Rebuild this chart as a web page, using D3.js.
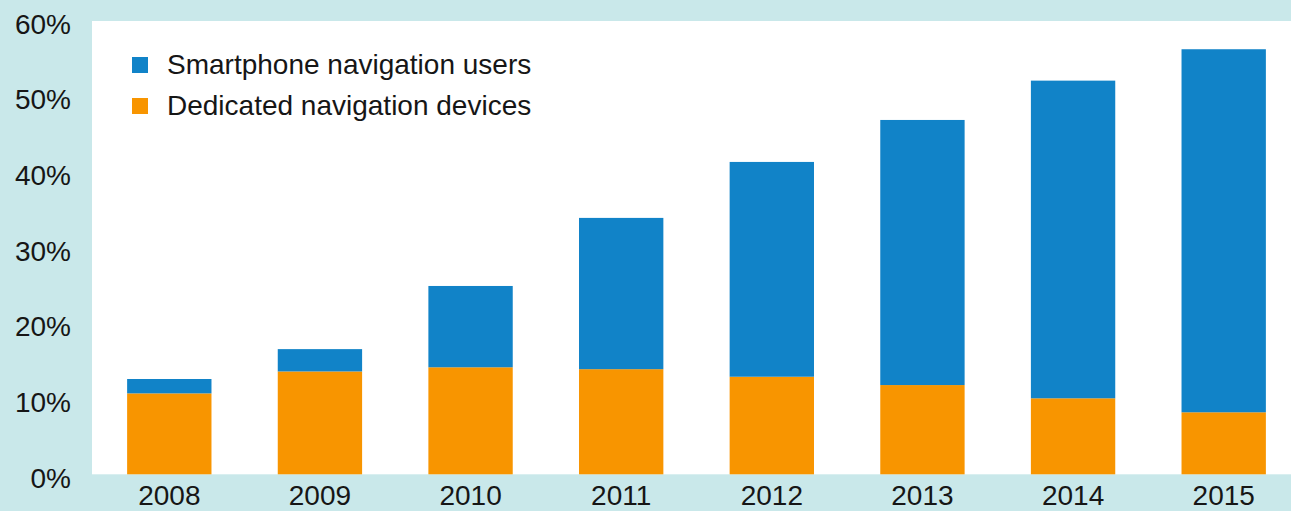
<!DOCTYPE html>
<html>
<head>
<meta charset="utf-8">
<script src="https://cdn.jsdelivr.net/npm/d3@7"></script>
<style>
  html, body { margin: 0; padding: 0; background: #c9e8ea; }
  svg { display: block; }
  text { font-family: "Liberation Sans", Arial, Helvetica, sans-serif; fill: #161616; }
</style>
</head>
<body>
<svg id="chart" width="1291" height="511"></svg>
<script>
// Share of users by navigation type, per year
const years = ["2008", "2009", "2010", "2011", "2012", "2013", "2014", "2015"];
const dedicatedDevices = [10.7, 13.6, 14.15, 13.9, 12.9, 11.8, 10.05, 8.2];
const smartphoneUsers = [1.9, 2.95, 10.75, 20.0, 28.4, 35.05, 42.0, 48.0];
const yTicks = [0, 10, 20, 30, 40, 50, 60];
const seriesNames = ["Dedicated navigation devices", "Smartphone navigation users"];
const seriesColors = ["#f89500", "#1183c8"];
const legendOrder = ["Smartphone navigation users", "Dedicated navigation devices"];

const W = 1291, H = 511;
const plot = { left: 92, right: 1291, top: 21, bottom: 474.3 };

const svg = d3.select("#chart");

// white plotting panel on the tinted background
svg.append("rect")
  .attr("x", plot.left).attr("y", plot.top)
  .attr("width", plot.right - plot.left)
  .attr("height", plot.bottom - plot.top)
  .attr("fill", "#ffffff");

const x = d3.scaleBand()
  .domain(years)
  .range([97, 1296])
  .paddingInner(0.44)
  .paddingOuter(0.2);

const y = d3.scaleLinear()
  .domain([0, 60])
  .range([plot.bottom, 20.5]);

const color = d3.scaleOrdinal().domain(seriesNames).range(seriesColors);

const rows = years.map((yr, i) => ({
  year: yr,
  [seriesNames[0]]: dedicatedDevices[i],
  [seriesNames[1]]: smartphoneUsers[i]
}));

const stacked = d3.stack().keys(seriesNames)(rows);

svg.append("g")
  .selectAll("g")
  .data(stacked)
  .join("g")
  .attr("fill", d => color(d.key))
  .selectAll("rect")
  .data(d => d)
  .join("rect")
  .attr("x", d => x(d.data.year))
  .attr("width", x.bandwidth())
  .attr("y", d => y(d[1]))
  .attr("height", d => y(d[0]) - y(d[1]));

// y-axis tick labels
const yAxis = d3.axisLeft(y)
  .tickValues(yTicks)
  .tickFormat(d => d + "%")
  .tickSize(0)
  .tickPadding(0);

svg.append("g")
  .attr("transform", "translate(71,0)")
  .call(yAxis)
  .call(g => g.select(".domain").remove())
  .call(g => g.selectAll("text")
    .attr("dy", null)
    .attr("y", 12.7)
    .attr("x", 0)
    .attr("font-size", 28)
    .attr("font-family", null)
    .attr("text-anchor", "end"));

// x-axis year labels
const xAxis = d3.axisBottom(x).tickSize(0).tickPadding(0);
svg.append("g")
  .attr("transform", `translate(0,${plot.bottom})`)
  .call(xAxis)
  .call(g => g.select(".domain").remove())
  .call(g => g.selectAll("text")
    .attr("dy", null)
    .attr("y", 31)
    .attr("font-size", 28)
    .attr("font-family", null));

// legend
const legend = svg.append("g");
legendOrder.forEach((name, i) => {
  const row = legend.append("g").attr("transform", `translate(0,${i * 41})`);
  row.append("rect")
    .attr("x", 132).attr("y", 57)
    .attr("width", 16).attr("height", 16)
    .attr("fill", color(name));
  row.append("text")
    .attr("x", 167).attr("y", 74)
    .attr("font-size", 28)
    .text(name);
});
</script>
</body>
</html>
